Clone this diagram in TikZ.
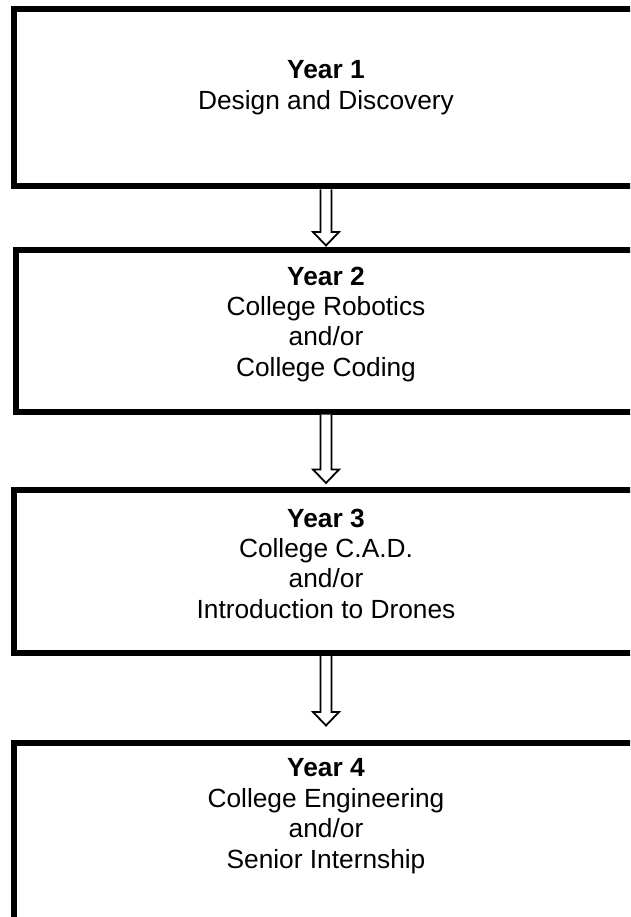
\documentclass[tikz,border=0pt]{standalone}
\usepackage{fontspec}
\setmainfont{Liberation Sans}
\usetikzlibrary{calc}
\newcommand\blockarrow[3]{%
  \draw[hollowarrow] let \p1=(#1.south), \p2=(#2.north) in
    (\x1-5.5pt,\y1) -- (\x1-5.5pt,\y2+#3+15pt) -- (\x1-13pt,\y2+#3+15pt)
    -- (\x1,\y2+#3+1.5pt) -- (\x1+13pt,\y2+#3+15pt) -- (\x1+5.5pt,\y2+#3+15pt)
    -- (\x1+5.5pt,\y1);}
\begin{document}
\begin{tikzpicture}[x=1pt,y=1pt,
  yearbox/.style={draw, line width=6pt, inner sep=0pt},
  boxtext/.style={align=center, inner sep=0pt, anchor=north,
    font=\fontsize{26.3}{30.4}\selectfont},
  hollowarrow/.style={draw, line width=1.8pt, line join=miter, fill=white}]
\clip (0,0) rectangle (630,-917);
\fill[white] (0,0) rectangle (630,-917);
\node[yearbox, minimum width=625pt, minimum height=177.5pt] (b1) at (326,-97.75) {};
\node[yearbox, minimum width=620pt, minimum height=161.5pt] (b2) at (326,-330.75) {};
\node[yearbox, minimum width=624pt, minimum height=163.5pt] (b3) at (326,-571.25) {};
\node[yearbox, minimum width=624pt, minimum height=250pt] (b4) at (326,-868) {};
\node[boxtext] (t1) at (326,-60.6) {\textbf{Year 1}\\Design and Discovery};
\node[boxtext] (t2) at (326,-266.6) {\textbf{Year 2}\\College Robotics\\and/or\\College Coding};
\node[boxtext] (t3) at (326,-508.6) {\textbf{Year 3}\\College C.A.D.\\and/or\\Introduction to Drones};
\node[boxtext] (t4) at (326,-758.6) {\textbf{Year 4}\\College Engineering\\and/or\\Senior Internship};
\blockarrow{b1}{b2}{0pt}
\blockarrow{b2}{b3}{2pt}
\blockarrow{b3}{b4}{13pt}
\end{tikzpicture}
\end{document}
